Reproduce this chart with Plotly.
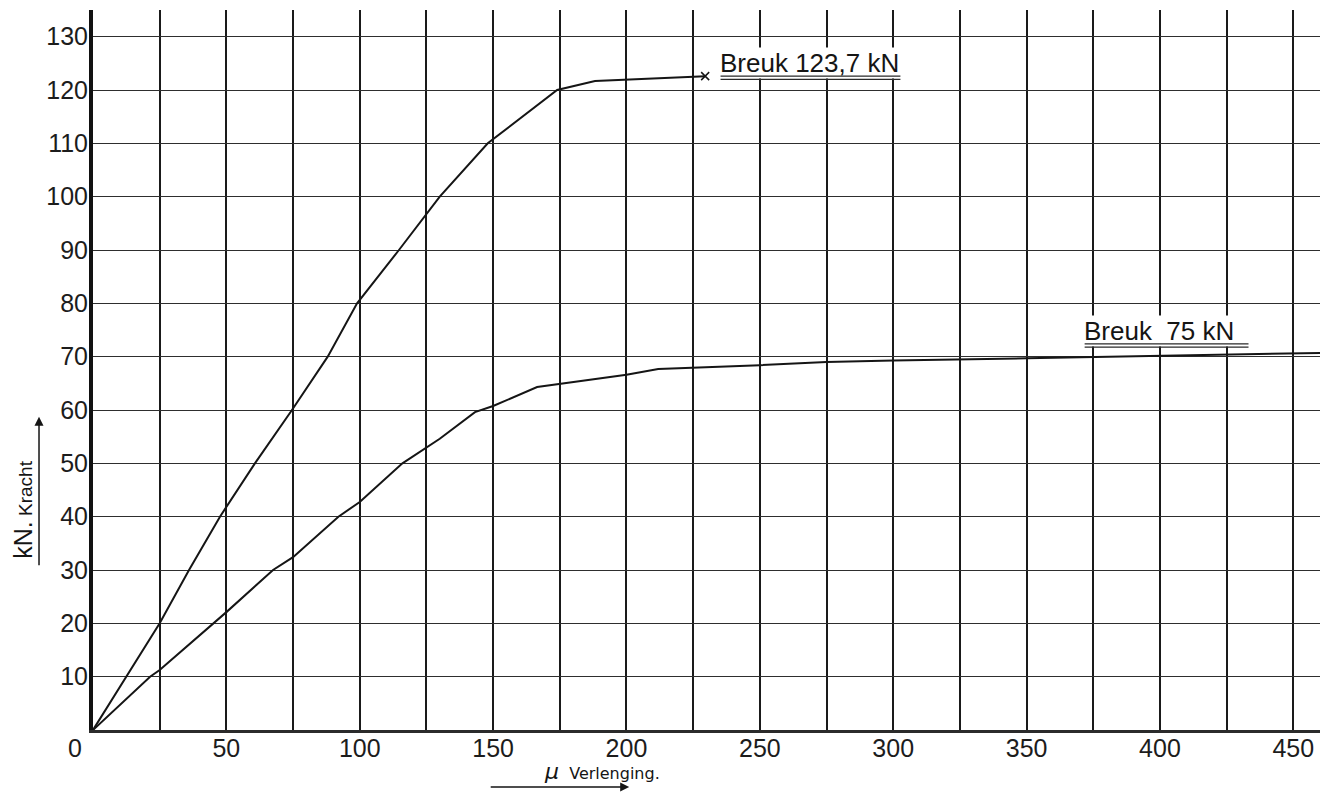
import plotly.graph_objects as go

# Load-elongation readings for the two test pieces
strong_elong = [0, 25, 36, 47.6, 60.7, 74.6, 88, 99, 114.7, 130, 148, 167.6, 174, 188.2, 209, 229.5]
strong_force = [0, 20, 30, 40, 50, 60, 70, 80, 90, 100, 110, 117.6, 120, 121.7, 122.2, 122.6]

weak_elong = [0, 21.4, 25, 50, 67.5, 75, 92, 100, 116, 124.1, 130, 143.2, 150, 166.5,
              200, 211.9, 250, 275, 300, 350, 400, 460]
weak_force = [0, 10, 11.25, 22.1, 30, 32.4, 40, 42.75, 50, 52.7, 54.6, 59.6, 60.75, 64.3,
              66.6, 67.7, 68.4, 69.0, 69.3, 69.7, 70.1, 70.7]

x_grid = list(range(25, 451, 25))
x_labels = [str(v) if v % 50 == 0 else "" for v in x_grid]
y_grid = list(range(10, 131, 10))
y_labels = [str(v) for v in y_grid]

break_labels = ["Breuk 123,7 kN", "Breuk\u00a0\u00a075 kN"]
break_label_x = [234.7, 371.2]
break_label_y = [125.1, 74.8]
underline_len = [68.0, 62.0]
underline_y = [[122.6, 122.0], [72.4, 71.8]]

INK = "#151515"
TICK_FONT = dict(family="Liberation Sans, Arial, sans-serif", size=25, color="#1c1c1c")

fig = go.Figure()

fig.add_trace(go.Scatter(
    x=strong_elong, y=strong_force, mode="lines",
    line=dict(color=INK, width=2), hoverinfo="skip", showlegend=False,
))
fig.add_trace(go.Scatter(
    x=strong_elong[-1:], y=strong_force[-1:], mode="markers",
    marker=dict(symbol="x-thin", size=8, line=dict(color=INK, width=1.5)),
    hoverinfo="skip", showlegend=False,
))
fig.add_trace(go.Scatter(
    x=weak_elong, y=weak_force, mode="lines",
    line=dict(color=INK, width=2), hoverinfo="skip", showlegend=False,
))

annotations = []
for text, lx, ly, ul, uys in zip(break_labels, break_label_x, break_label_y,
                                 underline_len, underline_y):
    annotations.append(dict(
        x=lx, y=ly, xref="x", yref="y", text=text, showarrow=False,
        xanchor="left", yanchor="middle", bgcolor="white", borderpad=0,
        font=dict(family="Liberation Sans, Arial, sans-serif", size=26, color=INK),
    ))
    # double underline beneath each break label
    for uy in uys:
        annotations.append(dict(
            x=lx + ul, y=uy, ax=lx, ay=uy, xref="x", yref="y", axref="x", ayref="y",
            text="", showarrow=True, arrowhead=0, arrowwidth=1.2, arrowcolor="#2a2a2a",
        ))

# origin label
annotations.append(dict(
    x=-0.015, y=-0.025, xref="paper", yref="paper", text="0", showarrow=False,
    xanchor="center", yanchor="middle", font=TICK_FONT,
))

# vertical axis title with arrow
annotations.append(dict(
    x=-0.057, y=0.306, xref="paper", yref="paper", textangle=-90, showarrow=False,
    xanchor="center", yanchor="middle",
    text="kN.<span style='font-size:19px'> Kracht</span>",
    font=dict(family="Liberation Sans, Arial, sans-serif", size=25, color=INK),
))
annotations.append(dict(
    x=-0.044, y=0.435, xref="paper", yref="paper", ax=0, ay=150, text="",
    showarrow=True, arrowhead=2, arrowsize=1.2, arrowwidth=1.5, arrowcolor=INK,
))

# horizontal axis title with arrow
annotations.append(dict(
    x=0.415, y=-0.058, xref="paper", yref="paper", showarrow=False,
    xanchor="center", yanchor="middle",
    text="<i style='font-size:22px'>\u03bc</i>  Verlenging.",
    font=dict(family="DejaVu Sans, sans-serif", size=16, color=INK),
))
annotations.append(dict(
    x=0.437, y=-0.079, xref="paper", yref="paper", ax=-140, ay=0, text="",
    showarrow=True, arrowhead=2, arrowsize=1.2, arrowwidth=1.5, arrowcolor=INK,
))

fig.update_layout(
    width=1336, height=792,
    margin=dict(l=93, r=16, t=10, b=62),
    paper_bgcolor="white", plot_bgcolor="white",
    annotations=annotations,
    xaxis=dict(
        range=[0, 460], tickmode="array", tickvals=x_grid, ticktext=x_labels,
        showgrid=True, gridcolor="#1a1a1a", gridwidth=2,
        showline=True, linecolor="#2b2b2b", linewidth=3,
        zeroline=False, ticks="", ticklen=0, tickfont=TICK_FONT, ticklabelstandoff=-6,
    ),
    yaxis=dict(
        range=[0, 135], tickmode="array", tickvals=y_grid, ticktext=y_labels,
        showgrid=True, gridcolor="#2e2e2e", gridwidth=1.4,
        showline=True, linecolor="#111111", linewidth=4,
        zeroline=False, ticks="", ticklen=0, tickfont=TICK_FONT, ticklabelstandoff=-4,
    ),
)

fig.write_html("out.html")
